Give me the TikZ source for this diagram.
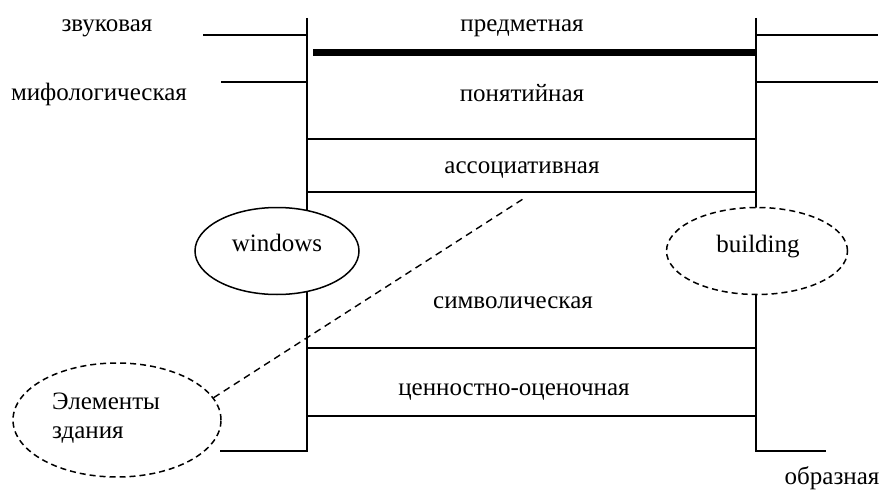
\documentclass[tikz,border=0pt]{standalone}
\usepackage{fontspec}
\setmainfont{Liberation Serif}
\usetikzlibrary{shapes.geometric}
\begin{document}
\begin{tikzpicture}[x=1pt,y=-1pt,
  thinline/.style={line width=1.5pt},
  frameline/.style={line width=1.8pt},
  thickline/.style={line width=7pt},
  lbl/.style={anchor=base,inner sep=0pt,font=\fontsize{25}{28.5}\selectfont},
  oval/.style={ellipse,draw,fill=white,line width=1.5pt,inner sep=0pt},
  dashedoval/.style={oval,dash pattern=on 6pt off 4pt},
  dashline/.style={line width=1.4pt,dash pattern=on 7pt off 5pt}]
\useasboundingbox (0,0) rectangle (883,495);

% frame corners
\coordinate (LT) at (307,18);
\coordinate (LB) at (307,451);
\coordinate (RT) at (756,18);
\coordinate (RB) at (756,451);

% the two verticals with their bottom stubs
\draw[frameline] (LT) -- (LB) -- (220,451);
\draw[frameline] (RT) -- (RB) -- (826,451);

% side stubs
\draw[thinline] (203,35) -- (307,35);
\draw[thinline] (221,82) -- (307,82);
\draw[thinline] (756,35) -- (878,35);
\draw[thinline] (756,82) -- (878,82);

% layer dividers
\draw[thickline] (313,53) -- (756,53);
\draw[thinline] (307,139) -- (756,139);
\draw[thinline] (307,192) -- (756,192);
\draw[thinline] (307,348) -- (756,348);
\draw[thinline] (307,416) -- (756,416);

% layer names
\node[lbl] (zv)  at (107,32)  {звуковая};
\node[lbl] (mif) at (99,100)  {мифологическая};
\node[lbl] (pr)  at (522,32)  {предметная};
\node[lbl] (pon) at (522,101) {понятийная};
\node[lbl] (as)  at (522,173) {ассоциативная};
\node[lbl] (sim) at (513,308) {символическая};
\node[lbl] (cen) at (514,395) {ценностно-оценочная};
\node[lbl] (obr) at (832,484) {образная};

% ovals on the verticals
\node[oval,minimum width=164pt,minimum height=87pt] (win) at (277,251) {};
\node[lbl] (wintext) at (277,251) {windows};
\node[dashedoval,minimum width=181pt,minimum height=87pt] (bld) at (757,251) {};
\node[lbl] (bldtext) at (758,252) {building};

% elements oval and its link
\node[dashedoval,minimum width=208pt,minimum height=114pt] (elem) at (117,420) {};
\node[lbl,anchor=north west,align=left] (elemtext) at (52,393) {Элементы\\здания};
\coordinate (linkend) at (523,199);
\draw[dashline] (elem.13) -- (linkend);
\end{tikzpicture}
\end{document}
